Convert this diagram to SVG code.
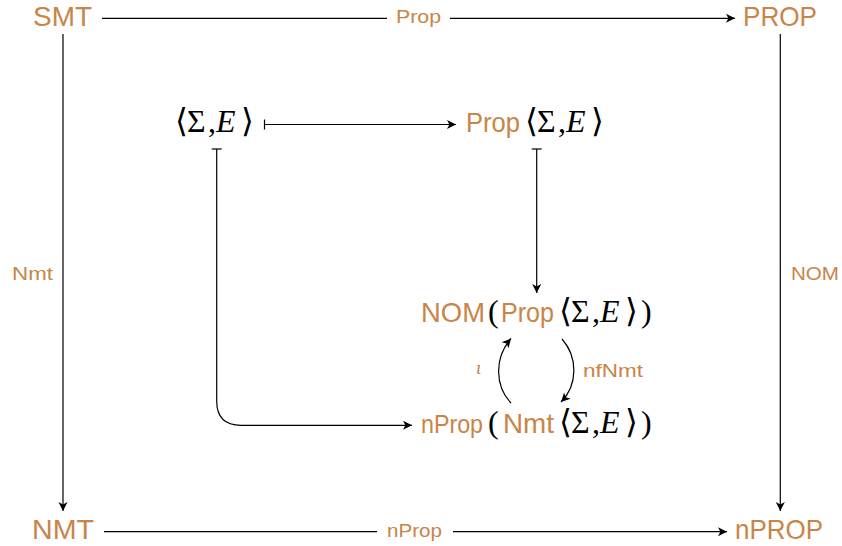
<svg xmlns="http://www.w3.org/2000/svg" width="842" height="546" viewBox="0 0 842 546">
<style>
.n{font-family:"Liberation Sans","DejaVu Sans",sans-serif;fill:#C98447;font-size:28px}
.l{font-family:"Liberation Sans","DejaVu Sans",sans-serif;fill:#C98447;font-size:19px}
.m{font-family:"Liberation Serif","DejaVu Serif",serif;fill:#000;font-size:32px}
.b{font-family:"DejaVu Sans","DejaVu Serif",sans-serif;fill:#000;font-size:33px}
.i{font-style:italic}
.c line,.c path{stroke:#000;stroke-width:1.2;fill:none}
</style>
<defs>
<marker id="a" markerUnits="userSpaceOnUse" markerWidth="12" markerHeight="12" viewBox="-8 -5 9 10" refX="0" refY="0" orient="auto">
<path d="M0,0 L-7.5,-3.8 L-5.5,0 L-7.5,3.8 Z" fill="#000"/>
</marker>
</defs>
<rect width="842" height="546" fill="#fff"/>
<g id="SMT"><text class="n" x="33" y="26" textLength="59" lengthAdjust="spacingAndGlyphs">SMT</text></g>
<g id="PROP"><text class="n" x="743" y="26" textLength="74" lengthAdjust="spacingAndGlyphs">PROP</text></g>
<g id="NMT"><text class="n" x="32" y="539" textLength="62" lengthAdjust="spacingAndGlyphs">NMT</text></g>
<g id="nPROP"><text class="n" x="735" y="539" textLength="88" lengthAdjust="spacingAndGlyphs">nPROP</text></g>
<g id="SigmaE">
<text class="m" y="132"><tspan class="b" x="175">⟨</tspan><tspan x="187">Σ</tspan><tspan x="208">,</tspan><tspan class="i" x="216">E</tspan><tspan class="b" x="241">⟩</tspan></text>
</g>
<g id="PropSigmaE">
<text class="n" x="466" y="132" textLength="54" lengthAdjust="spacingAndGlyphs" style="font-size:27px">Prop</text>
<text class="m" y="132"><tspan class="b" x="525">⟨</tspan><tspan x="537">Σ</tspan><tspan x="558">,</tspan><tspan class="i" x="566">E</tspan><tspan class="b" x="591">⟩</tspan></text>
</g>
<g id="NOMProp">
<text class="n" x="421" y="322" textLength="64" lengthAdjust="spacingAndGlyphs">NOM</text>
<text class="m" x="488" y="322">(</text>
<text class="n" x="501" y="322" textLength="53" lengthAdjust="spacingAndGlyphs" style="font-size:27px">Prop</text>
<text class="m" y="322"><tspan class="b" x="559">⟨</tspan><tspan x="571">Σ</tspan><tspan x="592">,</tspan><tspan class="i" x="600">E</tspan><tspan class="b" x="625">⟩</tspan><tspan x="641">)</tspan></text>
</g>
<g id="nPropNmt">
<text class="n" x="421" y="433" textLength="62" lengthAdjust="spacingAndGlyphs" style="font-size:25px">nProp</text>
<text class="m" x="488" y="433">(</text>
<text class="n" x="503" y="433" textLength="51" lengthAdjust="spacingAndGlyphs">Nmt</text>
<text class="m" y="433"><tspan class="b" x="559">⟨</tspan><tspan x="571">Σ</tspan><tspan x="592">,</tspan><tspan class="i" x="600">E</tspan><tspan class="b" x="625">⟩</tspan><tspan x="641">)</tspan></text>
</g>
<g id="connectors" class="c">
<line x1="102" y1="18.3" x2="387" y2="18.3"/>
<line x1="450" y1="18.3" x2="735" y2="18.3" marker-end="url(#a)"/>
<line x1="104" y1="531.7" x2="377" y2="531.7"/>
<line x1="453" y1="531.7" x2="727" y2="531.7" marker-end="url(#a)"/>
<line x1="63" y1="34" x2="63" y2="511" marker-end="url(#a)"/>
<line x1="780.3" y1="34" x2="780.3" y2="511" marker-end="url(#a)"/>
<line x1="264.5" y1="124.5" x2="456" y2="124.5" marker-end="url(#a)"/>
<line x1="264.5" y1="119.5" x2="264.5" y2="129.5"/>
<line x1="536.7" y1="149" x2="536.7" y2="293" marker-end="url(#a)"/>
<line x1="531.7" y1="149" x2="541.7" y2="149"/>
<path d="M216.7,149 L216.7,401 Q216.7,425.3 241,425.3 L412,425.3" marker-end="url(#a)"/>
<line x1="211.7" y1="149" x2="221.7" y2="149"/>
<path d="M511,403 C495,386 494,358 511,338.5" marker-end="url(#a)"/>
<path d="M562,339 C578,357 578,385 561,402" marker-end="url(#a)"/>
</g>
<g id="labels">
<text class="l" x="396" y="23" textLength="45" lengthAdjust="spacingAndGlyphs">Prop</text>
<text class="l" x="387" y="537" textLength="55" lengthAdjust="spacingAndGlyphs">nProp</text>
<text class="l" x="12" y="280" textLength="41" lengthAdjust="spacingAndGlyphs">Nmt</text>
<text class="l" x="791" y="280" textLength="48" lengthAdjust="spacingAndGlyphs">NOM</text>
<text class="l" x="583" y="377" textLength="60" lengthAdjust="spacingAndGlyphs">nfNmt</text>
<text x="476" y="374" style="font-family:'Liberation Serif','DejaVu Serif',serif;font-style:italic;font-size:19px;fill:#C98447">ι</text>
</g>
</svg>
